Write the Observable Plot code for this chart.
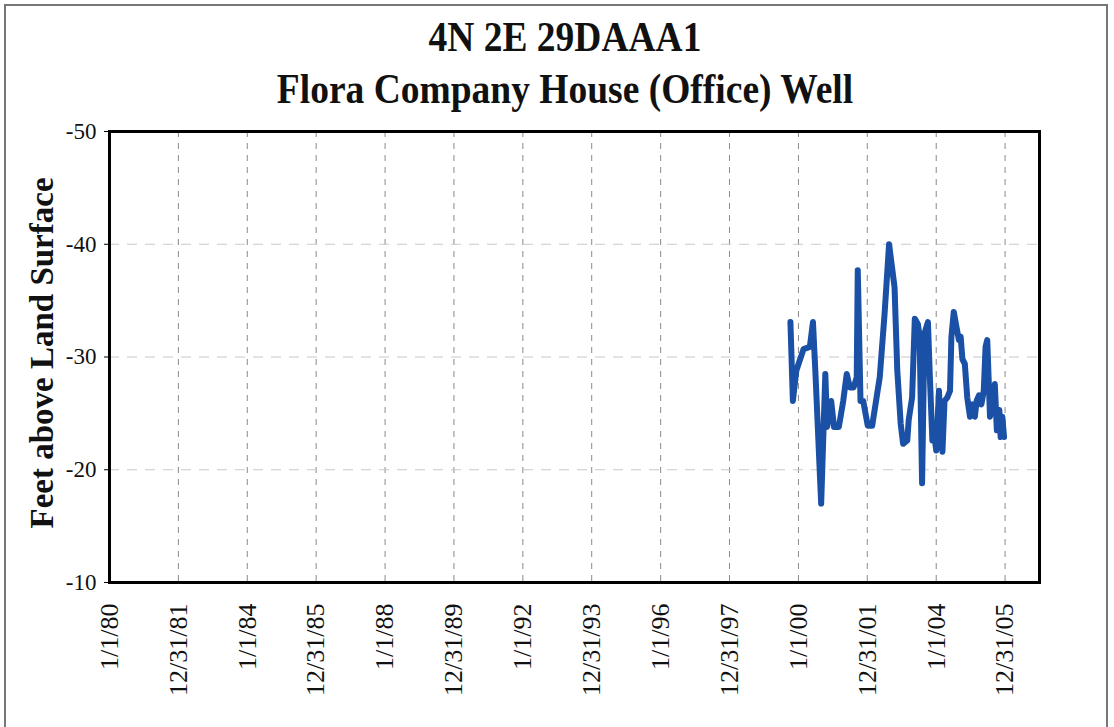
<!DOCTYPE html>
<html>
<head>
<meta charset="utf-8">
<script src="https://cdn.jsdelivr.net/npm/d3@7"></script>
<script src="https://cdn.jsdelivr.net/npm/@observablehq/plot@0.6"></script>
<style>
  html, body { margin: 0; padding: 0; background: #fff; }
  #page { position: relative; width: 1114px; height: 727px; overflow: hidden; background: #fff; }
  #border { position: absolute; left: 4px; top: 4px; width: 1104px; height: 740px; border: 2px solid #777; box-sizing: border-box; }
  .title { position: absolute; left: 0; width: 1130px; text-align: center; font-family: "Liberation Serif", "Times New Roman", serif; font-weight: bold; font-size: 37.5px; line-height: 37px; color: #111; transform: scaleY(1.15); transform-origin: 50% 50%; white-space: nowrap; }
  #chart { position: absolute; left: 0; top: 110px; }
</style>
</head>
<body>
<div id="page">
  <div id="border"></div>
  <div class="title" id="t1"></div>
  <div class="title" id="t2"></div>
  <div id="chart"></div>
</div>
<script>
const titleLines = ["4N 2E 29DAAA1", "Flora Company House (Office) Well"];
const yLabel = "Feet above Land Surface";

const tickDates = ["1980-01-01","1981-12-31","1984-01-01","1985-12-31","1988-01-01","1989-12-31","1992-01-01","1993-12-31","1996-01-01","1997-12-31","2000-01-01","2001-12-31","2004-01-01","2005-12-31"];
const tickLabels = ["1/1/80","12/31/81","1/1/84","12/31/85","1/1/88","12/31/89","1/1/92","12/31/93","1/1/96","12/31/97","1/1/00","12/31/01","1/1/04","12/31/05"];
const yTicks = [-50, -40, -30, -20, -10];
const yTickLabels = ["-50", "-40", "-30", "-20", "-10"];
const yGrid = [-40, -30, -20];

const dates = ["1999-10-08","1999-11-03","1999-12-10","2000-02-24","2000-05-01","2000-06-03","2000-06-28","2000-08-29","2000-10-12","2000-10-31","2000-12-13","2001-01-12","2001-03-04","2001-04-20","2001-05-27","2001-06-29","2001-08-08","2001-09-10","2001-09-21","2001-10-20","2001-11-18","2002-01-05","2002-02-21","2002-03-30","2002-05-12","2002-07-02","2002-08-19","2002-10-16","2002-11-14","2002-12-20","2003-01-15","2003-02-28","2003-03-15","2003-04-20","2003-05-19","2003-06-21","2003-07-09","2003-08-04","2003-08-29","2003-10-05","2003-10-27","2003-11-21","2003-12-06","2004-01-01","2004-01-30","2004-02-17","2004-03-07","2004-03-29","2004-04-27","2004-05-26","2004-06-10","2004-07-05","2004-08-04","2004-08-29","2004-09-16","2004-10-05","2004-10-30","2004-11-25","2004-12-24","2005-01-19","2005-02-14","2005-03-04","2005-03-29","2005-04-24","2005-05-19","2005-06-07","2005-06-25","2005-07-13","2005-07-24","2005-08-19","2005-09-13","2005-10-05","2005-10-31","2005-11-14","2005-12-02","2005-12-20"];
const levels = [-33.1,-26.1,-28.8,-30.7,-30.9,-33.1,-28.8,-17.0,-28.5,-23.8,-26.1,-23.8,-23.8,-26.1,-28.5,-27.3,-27.3,-28.2,-37.7,-26.1,-26.1,-23.9,-23.9,-25.9,-28.2,-33.8,-40.0,-36.2,-28.8,-24.1,-22.3,-22.6,-24.4,-26.4,-33.4,-32.9,-31.8,-18.8,-32.1,-33.1,-27.9,-22.6,-23.5,-21.7,-27.0,-23.5,-21.6,-26.1,-26.4,-27.0,-31.8,-34.0,-32.6,-31.5,-31.8,-29.8,-29.4,-26.4,-24.7,-25.8,-24.7,-26.1,-26.6,-25.8,-27.0,-30.9,-31.5,-27.3,-24.7,-25.8,-27.6,-23.5,-25.3,-22.9,-24.7,-22.9];

document.getElementById("t1").textContent = titleLines[0];
document.getElementById("t2").textContent = titleLines[1];
document.getElementById("t1").style.top = "18px";
document.getElementById("t2").style.top = "70px";

const parse = d3.utcParse("%Y-%m-%d");
const data = dates.map((d, i) => ({date: parse(d), level: levels[i]}));
const ticks = tickDates.map(parse);
const labelOf = new Map(ticks.map((t, i) => [+t, tickLabels[i]]));
const yLabelOf = new Map(yTicks.map((t, i) => [t, yTickLabels[i]]));

const serif = "Liberation Serif, Times New Roman, serif";

const chart = Plot.plot({
  width: 1114,
  height: 617,
  marginLeft: 109,
  marginRight: 75,
  marginTop: 21,
  marginBottom: 145,
  style: {fontFamily: serif, color: "#111", background: "transparent", overflow: "visible"},
  x: {type: "utc", domain: [parse("1980-01-01"), parse("2006-12-31")]},
  y: {domain: [-10, -50]},
  marks: [
    Plot.gridX(ticks, {stroke: "#8a8a8a", strokeOpacity: 1, strokeWidth: 1, strokeDasharray: "6,6"}),
    Plot.gridY(yGrid, {stroke: "#c8c8c8", strokeOpacity: 1, strokeWidth: 1, strokeDasharray: "10,8"}),
    Plot.line(data, {x: "date", y: "level", stroke: "#1a50a6", strokeWidth: 6, strokeLinejoin: "round", strokeLinecap: "round"}),
    Plot.frame({stroke: "#000", strokeWidth: 3}),
    Plot.axisY(yTicks, {tickSize: 5, tickPadding: 8, fontSize: 23, label: null, stroke: "#000", tickFormat: d => yLabelOf.get(d)}),
    Plot.axisX(ticks, {tickSize: 0, tickPadding: 21, tickRotate: -90, fontSize: 26, label: null, tickFormat: d => labelOf.get(+d)}),
    Plot.text([yLabel], {frameAnchor: "left", textAnchor: "middle", rotate: -90, dx: -67, dy: -4, fontSize: 33, fontWeight: "bold", fill: "#111"})
  ]
});
document.getElementById("chart").appendChild(chart);
</script>
</body>
</html>
